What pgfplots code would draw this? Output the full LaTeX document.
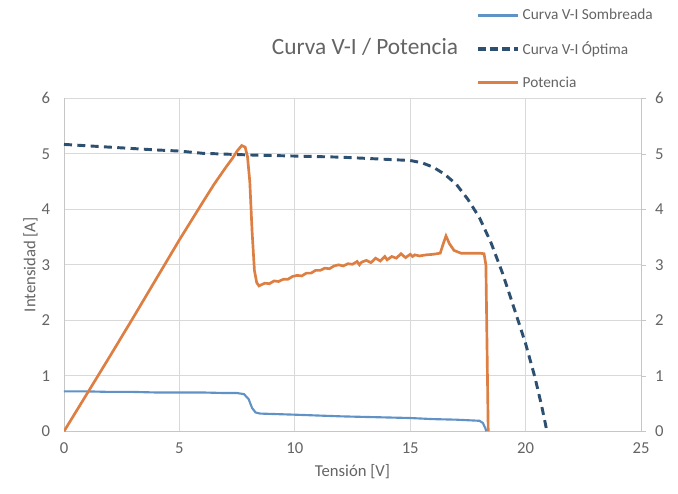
\documentclass[border=0pt]{standalone}
\usepackage{fontspec}
\setmainfont{Carlito}
\usepackage{pgfplots}
\pgfplotsset{compat=1.18}

\definecolor{txtgray}{RGB}{100,100,100}
\definecolor{sombra}{RGB}{96,146,198}
\definecolor{optima}{RGB}{46,80,112}
\definecolor{potencia}{RGB}{221,126,66}

\begin{document}
\begin{tikzpicture}
\pgfplotsset{
  every axis/.append style={
    width=432.75pt, height=249.75pt, scale only axis,
    xmin=0, xmax=25, ymin=0, ymax=6,
    ytick={0,...,6},
    /pgf/number format/assume math mode=true,
    tick label style={font=\fontsize{12.5}{14}\selectfont, text=txtgray},
    label style={font=\fontsize{12.5}{14}\selectfont, text=txtgray},
    axis line style={gray!45},
  },
}
\begin{axis}[
  at={(0,0)}, anchor=origin,
  axis y line*=left, axis x line*=bottom,
  xtick={0,5,...,25},
  grid=major, grid style={gray!30, line width=0.6pt},
  major tick length=0pt,
  xlabel={Tensión [V]}, ylabel={Intensidad [A]},
  xlabel style={yshift=-1pt}, ylabel style={yshift=-4pt},
  yticklabel style={xshift=-7pt}, xticklabel style={yshift=-5pt},
]
\addplot[sombra, line width=1.6pt] coordinates {
  (0,0.72) (1,0.72) (2,0.71) (3,0.71) (4,0.70) (5,0.70) (6,0.70) (7,0.69)
  (7.5,0.69) (7.8,0.67) (8.0,0.58) (8.15,0.42) (8.3,0.34) (8.5,0.32)
  (10,0.30) (12,0.27) (14,0.25) (15,0.24) (16,0.22) (17,0.21) (18,0.19)
  (18.15,0.15) (18.25,0.06) (18.3,0)
};
\addplot[optima, line width=2.2pt, dash pattern=on 6pt off 4pt] coordinates {
  (0,5.17) (2,5.12) (4,5.07) (5,5.05) (6,5.01) (8,4.98) (10,4.96) (12,4.94)
  (14,4.90) (15,4.88) (15.5,4.84) (16,4.76) (16.5,4.63) (17,4.45) (17.5,4.18)
  (18,3.85) (18.5,3.40) (19,2.85) (19.5,2.22) (20,1.58) (20.4,0.98)
  (20.7,0.45) (20.85,0.15) (20.9,0.05)
};
\end{axis}
\begin{axis}[
  at={(0,0)}, anchor=origin,
  axis y line*=right, axis x line=none,
  ytick align=outside, major tick length=4pt,
  ytick style={gray!45},
  yticklabel style={xshift=3pt},
  legend style={at={(0.708,1.285)}, anchor=north west, draw=none, fill=none,
    font=\fontsize{11.5}{13}\selectfont, text=txtgray,
    row sep=11pt, cells={anchor=west}},
  legend image code/.code={\draw[#1] (0pt,0pt) -- (30pt,0pt);},
]
\addlegendimage{sombra, line width=2pt}
\addlegendentry{Curva V-I Sombreada}
\addlegendimage{optima, line width=2.4pt, dash pattern=on 6pt off 3pt}
\addlegendentry{Curva V-I Óptima}
\addplot[potencia, line width=2pt] coordinates {
  (0,0) (1,0.68) (2,1.36) (3,2.05) (4,2.75) (5,3.45) (6,4.12) (6.5,4.45)
  (7,4.75) (7.3,4.92) (7.5,5.05) (7.7,5.15) (7.85,5.12) (7.95,4.95)
  (8.05,4.5) (8.15,3.6) (8.25,2.9) (8.35,2.68) (8.45,2.62)
  (8.7,2.67) (8.9,2.66) (9.1,2.71) (9.3,2.70) (9.5,2.74) (9.7,2.74)
  (9.9,2.79) (10.1,2.81) (10.3,2.80) (10.5,2.85) (10.7,2.85) (10.9,2.90)
  (11.1,2.90) (11.3,2.94) (11.5,2.93) (11.7,2.98) (11.9,3.00) (12.1,2.98)
  (12.3,3.02) (12.5,3.01) (12.7,3.06) (12.8,3.00) (12.9,3.05) (13.1,3.08)
  (13.3,3.04) (13.5,3.12) (13.7,3.07) (13.9,3.15) (14.0,3.09) (14.2,3.15)
  (14.4,3.12) (14.6,3.20) (14.8,3.13) (15.0,3.19) (15.1,3.15) (15.2,3.18)
  (15.4,3.16) (15.7,3.18) (16.0,3.19) (16.3,3.21) (16.45,3.40) (16.55,3.52)
  (16.7,3.38) (16.9,3.26) (17.2,3.21) (17.6,3.21) (18.0,3.21) (18.2,3.20)
  (18.28,3.0) (18.33,1.5) (18.38,0)
};
\addlegendentry{Potencia}
\end{axis}
\node[text=txtgray, font=\fontsize{17.5}{19}\selectfont] at (225.75pt,288pt) {Curva V-I / Potencia};
\node[overlay, rotate=-90, anchor=south, text=potencia, font=\fontsize{12.5}{14}\selectfont]
  at (457.5pt,135.75pt) {Potencia [W]};
\pgfresetboundingbox
\path[use as bounding box] (-48pt,-46.5pt) rectangle (460.5pt,323.5pt);
\end{tikzpicture}
\end{document}
